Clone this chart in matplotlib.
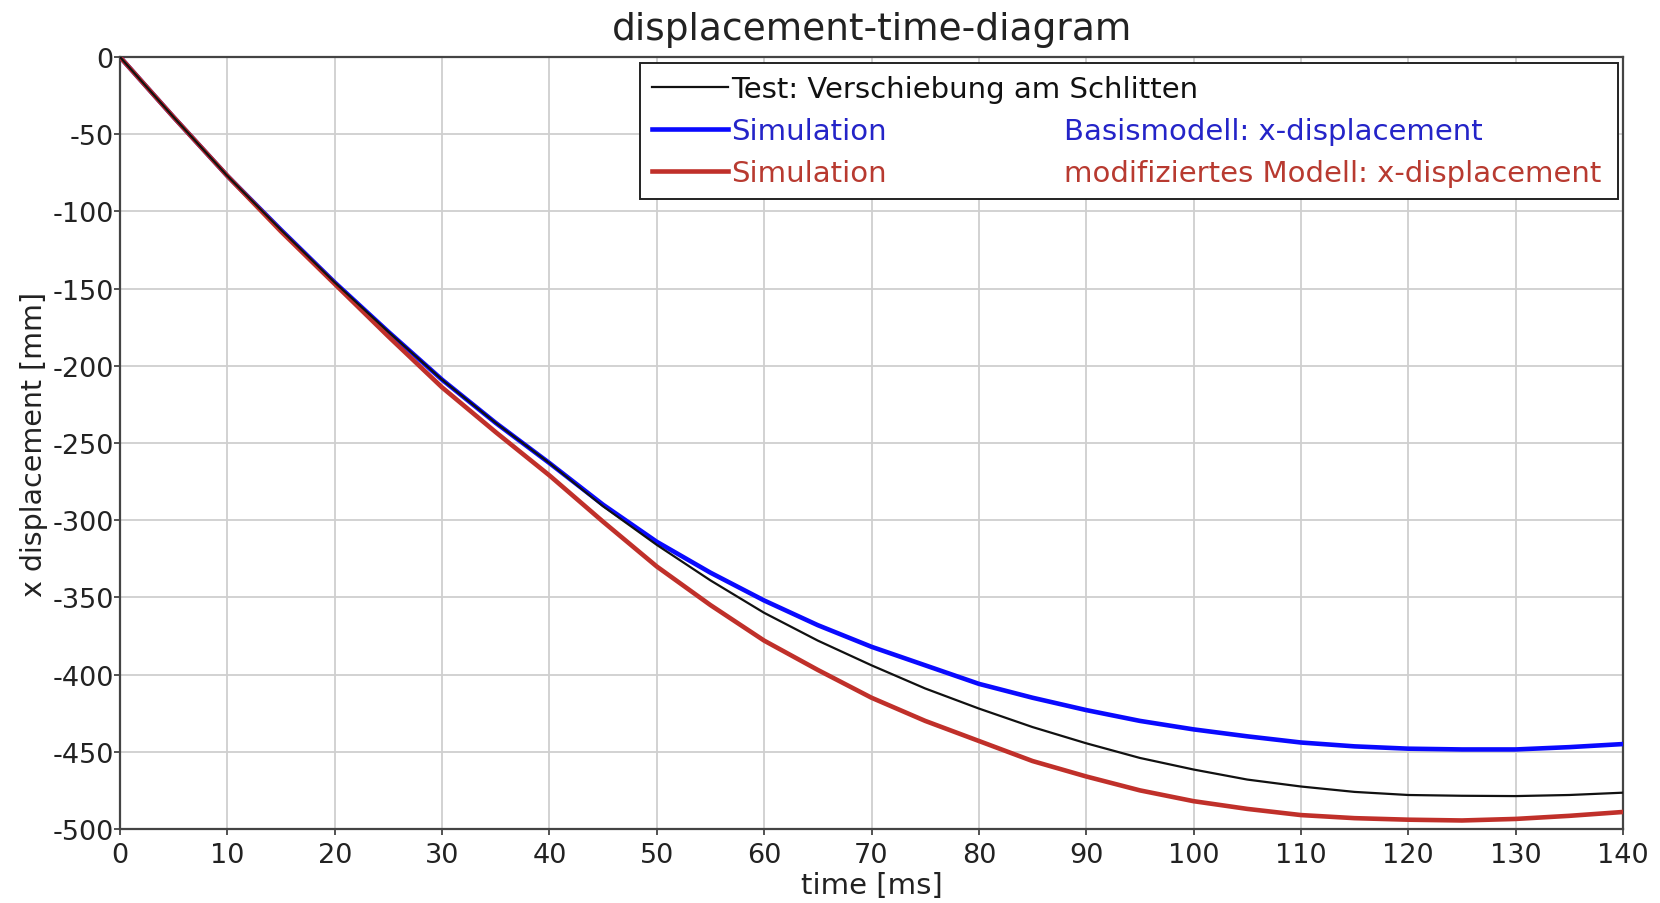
import matplotlib
matplotlib.use("Agg")
import matplotlib.pyplot as plt
from matplotlib.lines import Line2D

plt.rcParams['font.family'] = ['DejaVu Sans']
plt.rcParams['axes.unicode_minus'] = False

time_ms = [0, 5, 10, 15, 20, 25, 30, 35, 40, 45, 50, 55, 60, 65, 70, 75, 80,
           85, 90, 95, 100, 105, 110, 115, 120, 125, 130, 135, 140]

test_disp = [0, -39, -77, -112, -146, -178, -209, -237, -263, -291, -316, -339,
             -360, -378, -394, -409, -422, -434, -444.5, -454, -461.5, -468,
             -472.5, -476, -478, -478.5, -478.7, -478, -476.5]

basis_disp = [0, -39, -77, -112, -146, -178, -209, -237, -263, -290, -314, -334,
              -352, -368, -382, -394, -406, -415, -423, -430, -435.5, -440,
              -444, -446.5, -448, -448.5, -448.5, -447, -445]

modified_disp = [0, -39, -77, -113, -147, -181, -214, -243, -271, -301, -330,
                 -355, -378, -397, -415, -430, -443, -456, -466, -475, -482,
                 -487, -491, -493, -494, -494.5, -493.5, -491.5, -489]

x_ticks = list(range(0, 141, 10))
y_ticks = list(range(0, -501, -50))

title = "displacement-time-diagram"
x_label = "time [ms]"
y_label = "x displacement [mm]"
leg_col1 = ["Test: Verschiebung am Schlitten", "Simulation", "Simulation"]
leg_col2 = ["", "Basismodell: x-displacement", "modifiziertes Modell: x-displacement"]

c_black = "#111111"
c_blue = "#0a0aff"
c_red = "#c0302a"
c_blue_txt = "#2424c8"
c_red_txt = "#b83a30"

fig = plt.figure(figsize=(16.6, 9.04), dpi=100)
ax = fig.add_axes([0.0723, 0.0819, 0.9054, 0.8539])

ax.plot(time_ms, test_disp, color=c_black, lw=1.6, zorder=5)
ax.plot(time_ms, basis_disp, color=c_blue, lw=3.3, zorder=3)
ax.plot(time_ms, modified_disp, color=c_red, lw=3.3, zorder=4)

ax.set_xlim(0, 140)
ax.set_ylim(-500, 0)
ax.set_xticks(x_ticks)
ax.set_yticks(y_ticks)
ax.grid(True, color="#cfcfcf", lw=1.3)
ax.set_axisbelow(True)
for s in ax.spines.values():
    s.set_color("#444444")
    s.set_linewidth(1.6)
ax.tick_params(axis='both', direction='out', length=4, width=1.3,
               colors="#444444", labelcolor="#222222", labelsize=19.5)
ax.tick_params(axis='x', pad=5.5)
ax.tick_params(axis='y', pad=0.5)

ax.set_title(title, fontsize=27, color="#222222", pad=0, y=1.0233)
ax.set_xlabel(x_label, fontsize=21, color="#222222", labelpad=2)
ax.set_ylabel(y_label, fontsize=20.5, color="#222222", labelpad=3)

LEG_FS = 21
handles = [Line2D([], [], color=c_black, lw=1.6),
           Line2D([], [], color=c_blue, lw=3.3),
           Line2D([], [], color=c_red, lw=3.3)]
leg = ax.legend(handles, leg_col1, loc='upper left',
                bbox_to_anchor=(0.346, 0.821, 0.6507, 0.1719), mode='expand',
                fontsize=LEG_FS, frameon=True, fancybox=False, framealpha=1,
                edgecolor="#222222", handlelength=2.6, handletextpad=0.1,
                labelspacing=0.48, borderaxespad=0, borderpad=0.42)
leg.get_frame().set_linewidth(1.4)
for txt, col in zip(leg.get_texts(), ["#111111", c_blue_txt, c_red_txt]):
    txt.set_color(col)
leg.set_zorder(10)

fig.canvas.draw()
texts = leg.get_texts()
inv = ax.transAxes.inverted()
for txt, label, col in zip(texts, leg_col2, ["#111111", c_blue_txt, c_red_txt]):
    if not label:
        continue
    bb = txt.get_window_extent()
    yc = inv.transform(((bb.x0 + bb.x1) / 2, (bb.y0 + bb.y1) / 2))[1]
    ax.text(0.628, yc, label, transform=ax.transAxes, fontsize=LEG_FS,
            color=col, va='center', ha='left', zorder=11)

fig.savefig("out.png", dpi=100)
